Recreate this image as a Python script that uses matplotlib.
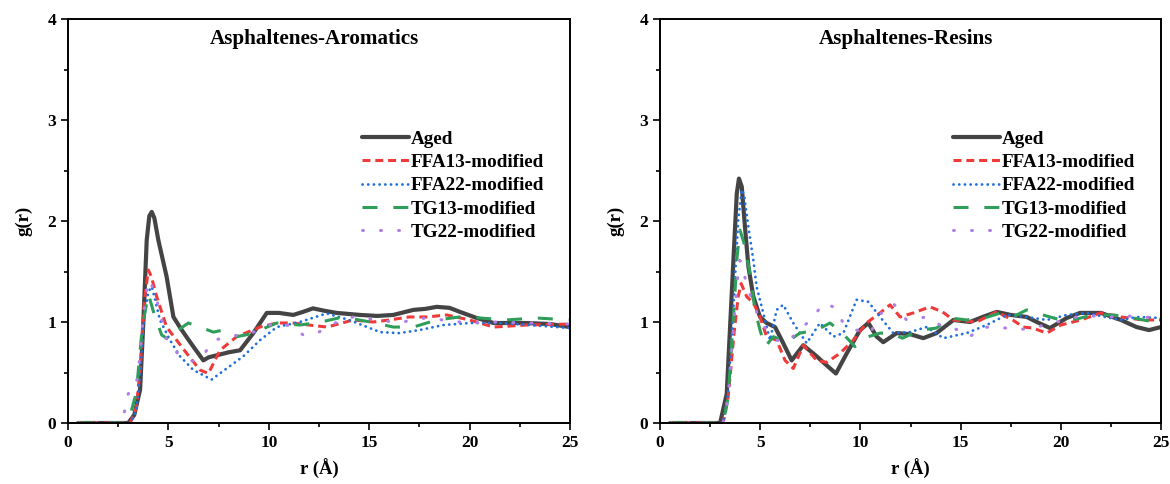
import matplotlib
matplotlib.use("Agg")
import matplotlib.pyplot as plt
from matplotlib.ticker import MultipleLocator

plt.rcParams['font.family'] = ['Liberation Serif', 'DejaVu Serif']
plt.rcParams['font.weight'] = 'bold'

series_names = ["Aged", "FFA13-modified", "FFA22-modified", "TG13-modified", "TG22-modified"]
panel_titles = ["Asphaltenes-Aromatics", "Asphaltenes-Resins"]
x_ticks = [0, 5, 10, 15, 20, 25]
y_ticks = [0, 1, 2, 3, 4]

# ---- Asphaltenes-Aromatics RDF curves ----
aro_aged_r = [0.5, 3.0, 3.3, 3.59, 3.75, 3.92, 4.05, 4.17, 4.3, 4.5, 4.91, 5.25, 5.6, 5.91, 6.3, 6.74,
              7.0, 7.4, 8.0, 8.57, 9.23, 9.9, 10.5, 11.22, 11.7, 12.2, 12.8, 13.38, 14.54, 15.4, 16.2,
              17.2, 17.8, 18.36, 19.0, 19.52, 20.35, 21.2, 22.8, 24.0, 25.0]
aro_aged_g = [0, 0, 0.08, 0.33, 0.99, 1.81, 2.05, 2.09, 2.03, 1.81, 1.45, 1.05, 0.94, 0.85, 0.74, 0.62,
              0.65, 0.67, 0.70, 0.72, 0.89, 1.09, 1.09, 1.07, 1.10, 1.135, 1.11, 1.09, 1.07, 1.06, 1.07,
              1.12, 1.13, 1.15, 1.14, 1.10, 1.04, 0.99, 0.99, 0.98, 0.95]

aro_ffa13_r = [0.5, 3.1, 3.4, 3.6, 3.8, 4.0, 4.15, 4.42, 4.91, 5.41, 5.91, 6.57, 6.99, 7.57, 8.4, 9.56,
               10.4, 11.2, 12.0, 12.9, 14.2, 15.2, 16.0, 17.0, 17.9, 18.86, 20.0, 21.2, 22.8, 25.0]
aro_ffa13_g = [0, 0, 0.15, 0.55, 1.2, 1.515, 1.45, 1.25, 0.95, 0.82, 0.69, 0.525, 0.49, 0.72, 0.855, 0.95,
               0.99, 0.99, 0.97, 0.95, 1.02, 1.0, 1.02, 1.05, 1.05, 1.07, 1.02, 0.95, 0.97, 0.98]

aro_ffa22_r = [0.5, 3.1, 3.4, 3.6, 3.8, 4.0, 4.17, 4.3, 4.58, 5.08, 5.58, 6.24, 7.15, 7.9, 8.73, 9.56,
               10.4, 11.55, 12.88, 14.0, 15.54, 16.5, 17.5, 18.7, 20.0, 21.5, 23.0, 25.0]
aro_ffa22_g = [0, 0, 0.12, 0.5, 1.05, 1.3, 1.35, 1.25, 1.02, 0.82, 0.66, 0.525, 0.43, 0.54, 0.66, 0.82,
               0.95, 1.0, 1.085, 1.02, 0.90, 0.89, 0.92, 0.97, 0.99, 0.99, 0.97, 0.94]

aro_tg13_r = [0.5, 2.9, 3.1, 3.4, 3.7, 4.0, 4.33, 4.67, 5.08, 5.49, 5.99, 6.57, 7.24, 7.73, 8.4, 9.06,
              9.56, 10.4, 11.55, 12.6, 13.7, 15.05, 16.2, 17.2, 18.36, 19.52, 20.5, 21.8, 23.3, 25.0]
aro_tg13_g = [0, 0, 0.08, 0.3, 0.95, 1.28, 1.05, 0.87, 0.82, 0.92, 0.99, 0.95, 0.90, 0.92, 0.855, 0.88,
              0.92, 0.99, 0.97, 1.0, 1.05, 1.0, 0.95, 0.95, 1.02, 1.05, 1.04, 1.02, 1.04, 1.02]

aro_tg22_r = [0.5, 2.6, 2.84, 3.0, 3.34, 3.5, 3.7, 3.9, 4.08, 4.42, 4.91, 5.58, 6.24, 6.74, 7.24, 8.07,
              9.23, 10.4, 11.2, 11.72, 12.4, 13.4, 14.2, 15.5, 16.5, 17.5, 18.7, 19.9, 21.2, 23.0, 25.0]
aro_tg22_g = [0, 0, 0.13, 0.29, 0.33, 0.5, 0.95, 1.3, 1.42, 1.22, 0.82, 0.66, 0.61, 0.67, 0.82, 0.855,
              0.90, 1.0, 0.95, 0.87, 0.89, 1.0, 1.05, 1.02, 0.99, 1.04, 1.02, 0.99, 1.0, 0.99, 0.98]

# ---- Asphaltenes-Resins RDF curves ----
res_aged_r = [0.5, 3.0, 3.33, 3.58, 3.83, 3.94, 4.08, 4.24, 4.41, 4.66, 4.99, 5.32, 5.74, 6.15, 6.57,
              7.15, 7.82, 8.32, 8.78, 9.32, 9.98, 10.4, 10.81, 11.14, 11.81, 12.47, 13.14, 13.8, 14.64,
              15.47, 16.1, 16.8, 17.5, 18.3, 18.8, 19.46, 20.3, 20.96, 22.0, 23.0, 23.78, 24.4, 25.0]
res_aged_g = [0, 0, 0.29, 1.28, 2.27, 2.42, 2.34, 1.94, 1.55, 1.25, 1.05, 0.99, 0.95, 0.79, 0.62,
              0.77, 0.66, 0.57, 0.49, 0.69, 0.92, 0.99, 0.855, 0.80, 0.89, 0.88, 0.84, 0.89, 1.02,
              1.0, 1.05, 1.10, 1.07, 1.05, 1.0, 0.94, 1.04, 1.09, 1.09, 1.02, 0.95, 0.92, 0.95]

res_ffa13_r = [0.5, 3.15, 3.4, 3.7, 3.9, 4.05, 4.33, 4.66, 4.99, 5.32, 5.82, 6.24, 6.65, 7.15, 7.82,
               8.32, 8.98, 9.65, 10.3, 10.98, 11.48, 11.98, 12.64, 13.47, 14.1, 14.64, 15.8, 16.8, 17.6,
               18.13, 18.6, 19.3, 20.0, 21.0, 22.0, 23.0, 24.1, 25.0]
res_ffa13_g = [0, 0, 0.25, 0.9, 1.25, 1.38, 1.25, 1.19, 1.05, 0.855, 0.82, 0.62, 0.54, 0.77, 0.62,
               0.60, 0.69, 0.82, 0.99, 1.09, 1.17, 1.05, 1.09, 1.15, 1.10, 1.02, 1.0, 1.10, 1.02,
               0.95, 0.94, 0.89, 0.97, 1.02, 1.09, 1.05, 1.02, 1.02]

res_ffa22_r = [0.5, 3.15, 3.4, 3.65, 3.9, 4.08, 4.2, 4.41, 4.66, 4.82, 5.15, 5.49, 5.82, 6.15, 6.65,
               7.32, 7.98, 8.65, 9.15, 9.81, 10.4, 10.98, 11.64, 12.47, 13.3, 14.14, 15.3, 16.3, 17.3,
               18.3, 19.3, 20.3, 21.3, 22.2, 23.0, 23.8, 25.0]
res_ffa22_g = [0, 0, 0.3, 1.1, 2.0, 2.31, 2.25, 1.94, 1.61, 1.35, 1.09, 0.82, 1.12, 1.17, 0.99,
               0.79, 0.99, 0.855, 0.89, 1.22, 1.2, 1.05, 0.89, 0.9, 0.95, 0.84, 0.89, 0.97, 1.07,
               1.05, 1.02, 1.07, 1.09, 1.05, 1.02, 1.05, 1.04]

res_tg13_r = [0.5, 3.15, 3.4, 3.65, 3.85, 3.99, 4.24, 4.49, 4.74, 4.99, 5.24, 5.66, 6.32, 6.98, 7.82,
              8.48, 9.06, 9.73, 10.4, 10.98, 11.5, 12.1, 12.97, 13.8, 14.5, 15.3, 16.2, 17.0, 17.6,
              18.3, 19.1, 20.0, 20.8, 21.6, 22.6, 23.4, 24.1, 25.0]
res_tg13_g = [0, 0, 0.25, 1.0, 1.65, 1.91, 1.75, 1.48, 1.12, 0.92, 0.755, 0.855, 0.80, 0.89, 0.92,
              0.99, 0.90, 0.755, 0.855, 0.89, 0.89, 0.84, 0.92, 0.94, 1.04, 1.02, 1.04, 1.09, 1.05,
              1.12, 1.07, 1.02, 1.03, 1.07, 1.07, 1.05, 1.02, 0.99]

res_tg22_r = [0.5, 3.15, 3.4, 3.65, 3.85, 3.99, 4.24, 4.57, 4.99, 5.32, 5.82, 6.32, 6.98, 7.65, 8.15,
              8.65, 9.15, 9.81, 10.48, 11.14, 11.64, 12.3, 13.3, 14.14, 14.97, 15.47, 16.1, 17.3, 18.1,
              18.8, 19.8, 20.8, 21.6, 22.5, 23.3, 24.1, 25.0]
res_tg22_g = [0, 0, 0.25, 0.9, 1.4, 1.61, 1.44, 1.22, 1.02, 0.92, 0.82, 0.80, 0.92, 1.05, 1.185,
              1.15, 0.99, 0.92, 0.89, 1.12, 1.185, 1.02, 1.05, 0.95, 0.92, 0.855, 0.95, 0.94, 0.93,
              0.95, 1.0, 1.05, 1.06, 1.05, 1.06, 1.05, 1.04]

panels = [
    [(aro_aged_r, aro_aged_g), (aro_ffa13_r, aro_ffa13_g), (aro_ffa22_r, aro_ffa22_g),
     (aro_tg13_r, aro_tg13_g), (aro_tg22_r, aro_tg22_g)],
    [(res_aged_r, res_aged_g), (res_ffa13_r, res_ffa13_g), (res_ffa22_r, res_ffa22_g),
     (res_tg13_r, res_tg13_g), (res_tg22_r, res_tg22_g)],
]

# line styles per series
styles = [
    dict(color="#444444", lw=3.0, ls="-", solid_capstyle="round"),
    dict(color="#f03a3a", lw=2.2, ls=(0, (2.6, 1.6))),
    dict(color="#1f6fe0", lw=2.0, ls=(0, (0.05, 2.0)), dash_capstyle="round"),
    dict(color="#2e9e5a", lw=2.2, ls=(0, (4.9, 5.2))),
    dict(color="#b07fe6", lw=2.2, ls=(0, (0.3, 5.6)), dash_capstyle="round"),
]

fig = plt.figure(figsize=(11.7, 4.84), dpi=100)
axes_rects = [
    [68 / 1170, 61 / 484, 502 / 1170, 404 / 484],
    [660 / 1170, 61 / 484, 501 / 1170, 404 / 484],
]

for rect, curves, title in zip(axes_rects, panels, panel_titles):
    ax = fig.add_axes(rect)
    for (r, g), name, st in zip(curves, series_names, styles):
        ax.plot(r, g, label=name, **st)
    ax.set_xlim(0, 25)
    ax.set_ylim(0, 4)
    ax.set_xticks(x_ticks)
    ax.set_yticks(y_ticks)
    ax.xaxis.set_minor_locator(MultipleLocator(2.5))
    ax.yaxis.set_minor_locator(MultipleLocator(0.5))
    ax.tick_params(which="both", direction="out", top=False, right=False, width=1.2,
                   labelsize=12.5)
    ax.tick_params(which="major", length=5)
    ax.tick_params(which="minor", length=3)
    for lab in ax.get_xticklabels() + ax.get_yticklabels():
        lab.set_fontweight("bold")
    for sp in ax.spines.values():
        sp.set_linewidth(1.4)
    ax.set_xlabel("r (Å)", fontsize=13.5, fontweight="bold", labelpad=6)
    ax.set_ylabel("g(r)", fontsize=13.5, fontweight="bold", labelpad=11)
    ax.text(0.49, 0.95, title, transform=ax.transAxes, ha="center", va="center",
            fontsize=15.2, fontweight="bold")
    ax.legend(loc="upper left", bbox_to_anchor=(0.585, 0.725), frameon=False,
              handlelength=2.45, handletextpad=0.1, labelspacing=0.31,
              borderpad=0, borderaxespad=0, prop=dict(weight="bold", size=13.8))

fig.savefig("out.png", dpi=100)
